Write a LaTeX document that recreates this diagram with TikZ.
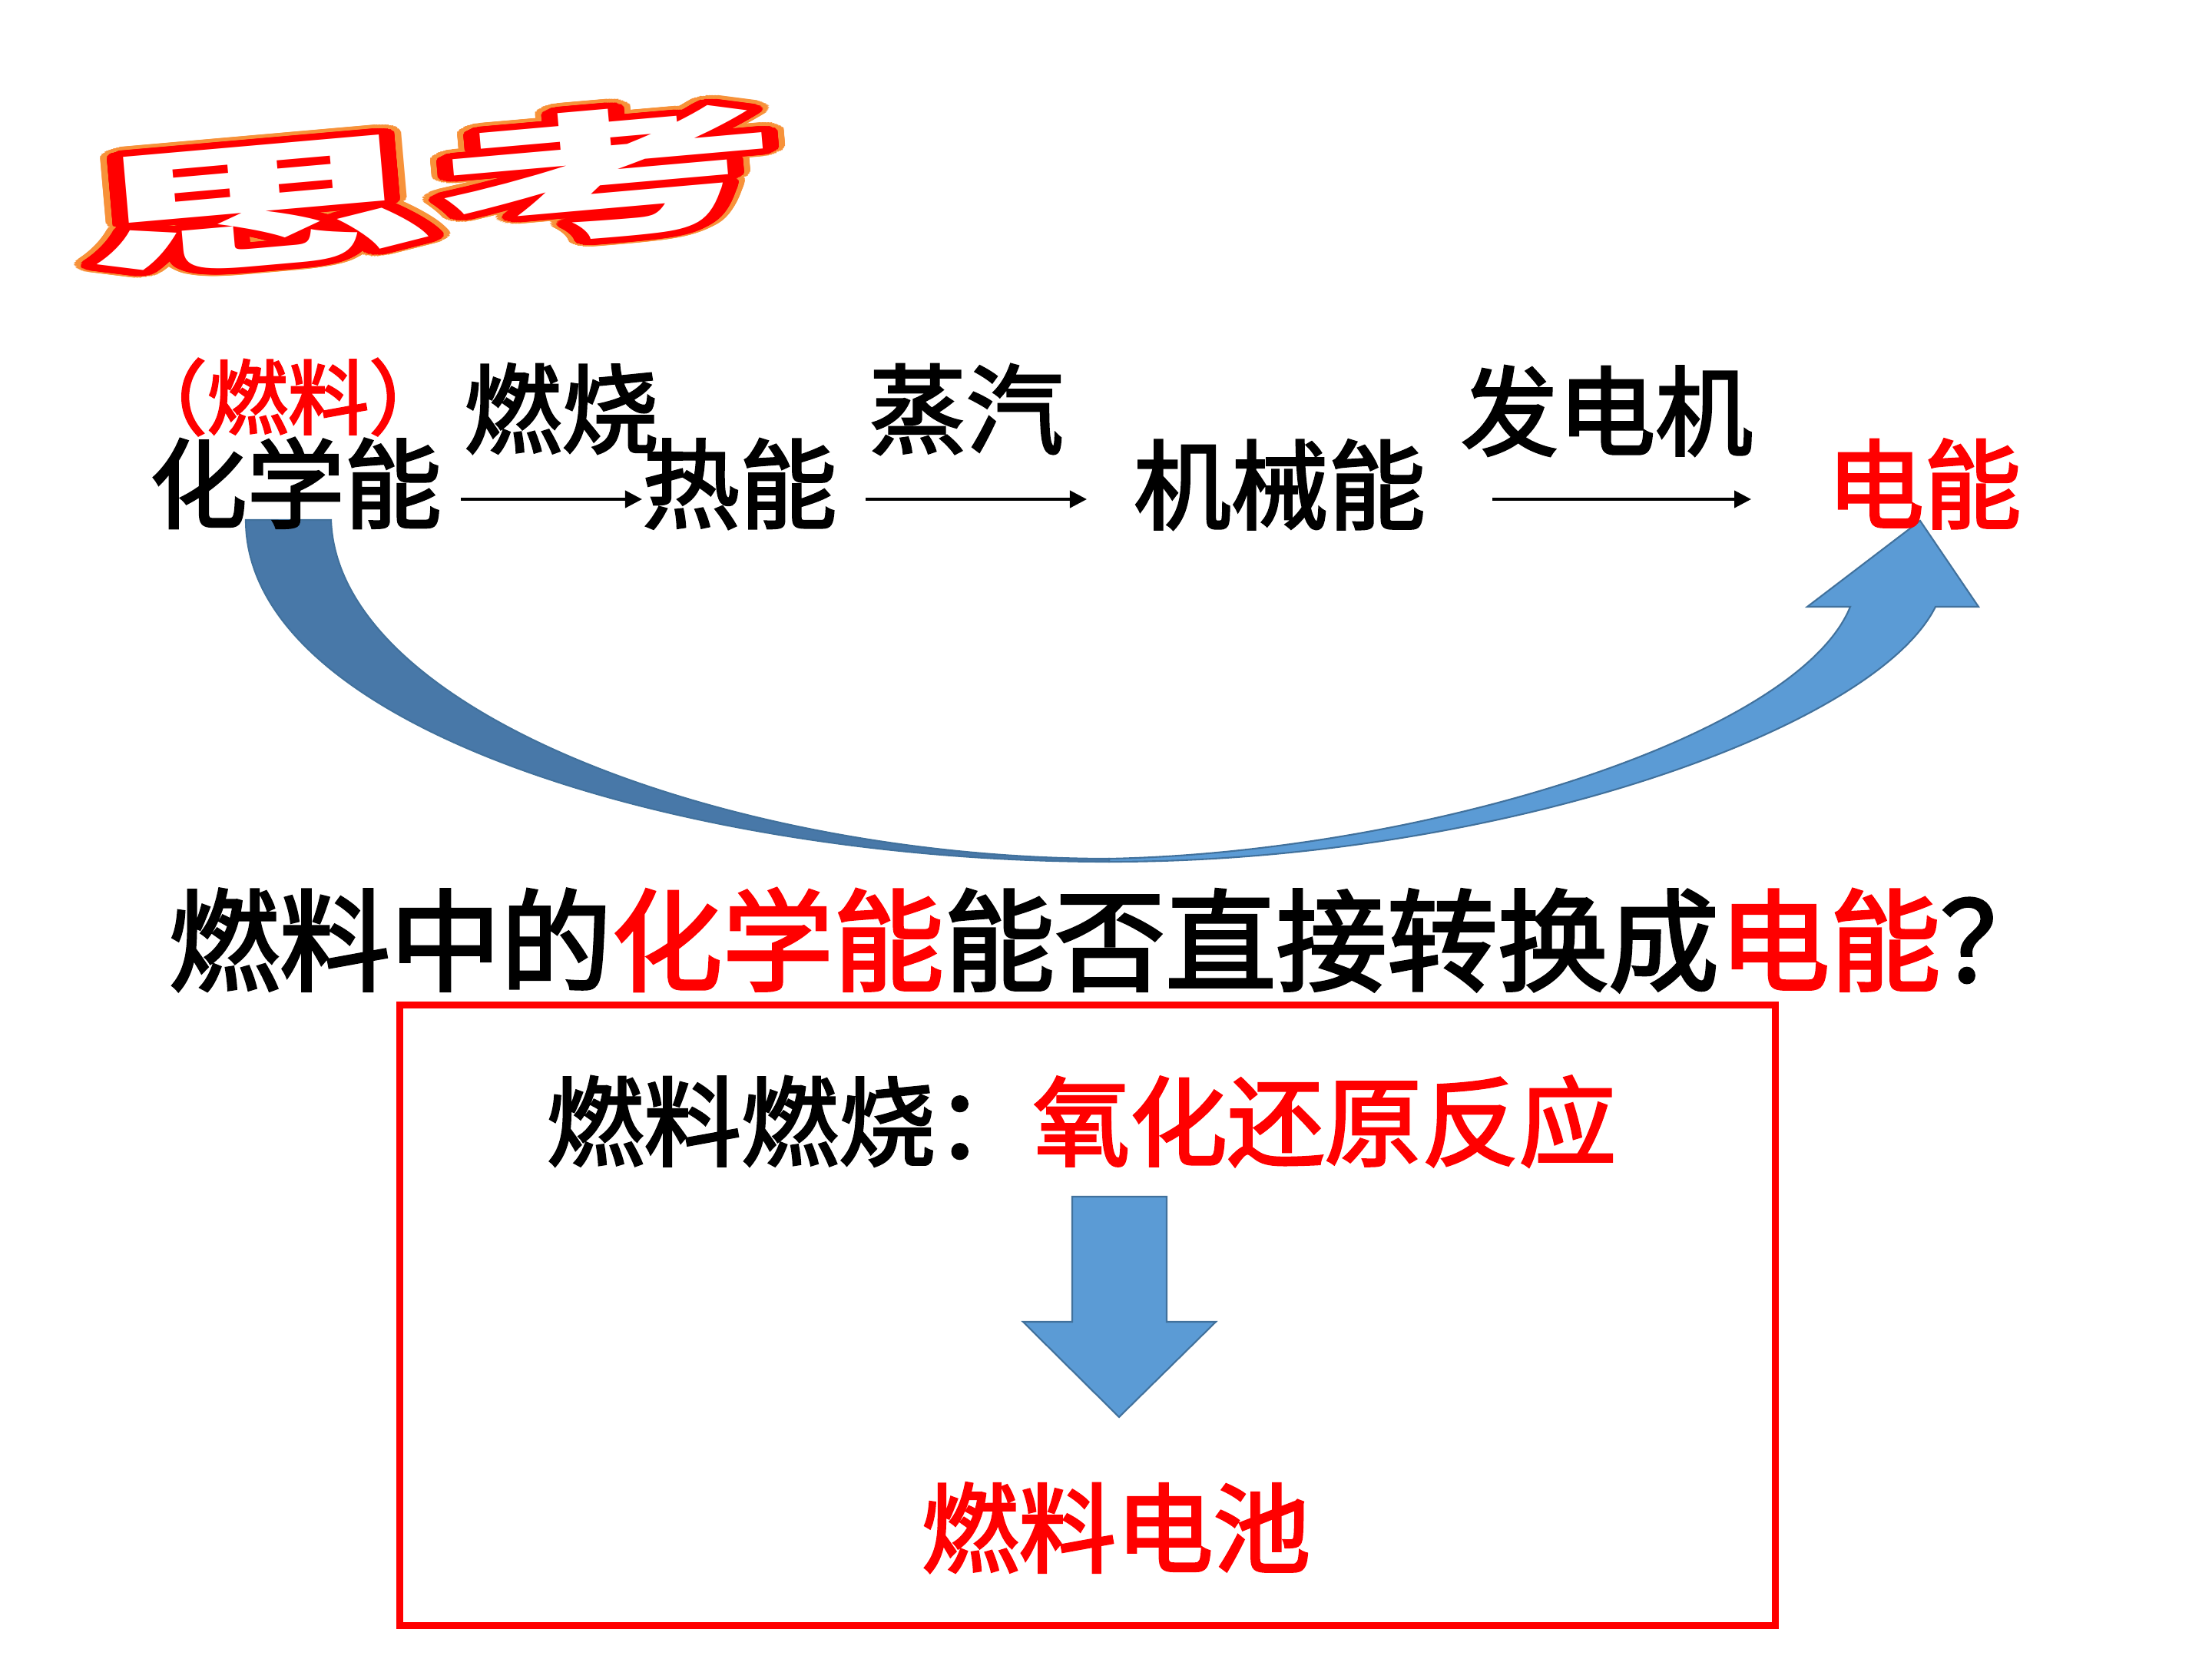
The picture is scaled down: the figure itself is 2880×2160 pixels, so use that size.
\documentclass[tikz,border=0pt]{standalone}
\usepackage{fontspec}
\setmainfont{Noto Sans CJK SC}
\newfontfamily\heavy{Noto Sans CJK SC}[FakeBold=2.5]
\usepackage{xcolor}
\usepackage{tikz}
\usetikzlibrary{arrows.meta}
\usepackage{contour}
\contournumber{48}
\definecolor{arcdark}{HTML}{4878A8}
\definecolor{arclight}{HTML}{5B9BD5}
\definecolor{arcedge}{HTML}{41719C}
\definecolor{titlerim}{HTML}{F7923A}

\begin{document}
\begin{tikzpicture}[x=0.01cm, y=-0.01cm,
  txt/.style={font=\heavy\fontsize{36}{40}\selectfont, inner sep=0pt},
  flow/.style={-{Triangle[length=0.22cm,width=0.22cm]}, line width=0.04cm},
  blockarrow/.style={fill=arclight, draw=arcedge, line width=0.6pt},
  headline/.style={rotate=5, xscale=2.6, inner sep=0pt, font=\fontsize{50}{50}\selectfont\bfseries}]
  \useasboundingbox (0,0) rectangle (2880,2160);
  % Title: white letters, red outline, orange rim
  \node[headline] (titleback) at (563,250)
    {\contourlength{3.2pt}\contour{titlerim}{\textcolor{white}{思考}}};
  \node[headline] (title) at (563,250)
    {\contourlength{2.3pt}\contour{red}{\textcolor{white}{思考}}};
  % Curved arrow: back of the ribbon dark, front light
  \filldraw[fill=arcdark, draw=arcedge, line width=0.6pt] (320,677) -- (431,677)
    .. controls (440,930) and (960,1118) .. (1444,1118) -- (1444,1122)
    .. controls (900,1122) and (320,950) .. (320,677) -- cycle;
  \filldraw[blockarrow] (1444,1122) .. controls (1950,1122) and (2440,950) .. (2520,790)
    -- (2576,790) -- (2500,678) -- (2353,790) -- (2409,790)
    .. controls (2340,960) and (1850,1110) .. (1444,1118) -- cycle;
  % Energy chain
  \node[txt, text=red, font=\heavy\fontsize{30}{32}\selectfont] (fuel) at (375,517) {（燃料）};
  \node[txt] (chem) at (385,629) {化学能};
  \node[txt] (heat) at (963,630) {热能};
  \node[txt] (mech) at (1666,631) {机械能};
  \node[txt, text=red] (elec) at (2505,630) {电能};
  \node[txt] (burn) at (731,532) {燃烧};
  \node[txt] (steam) at (1258,533) {蒸汽};
  \node[txt] (gen) at (2092,535) {发电机};
  \coordinate (burnA) at (600,650);  \coordinate (burnB) at (836,650);
  \coordinate (steamA) at (1127,650); \coordinate (steamB) at (1415,650);
  \coordinate (genA) at (1943,650);  \coordinate (genB) at (2280,650);
  \draw[flow] (burnA) -- (burnB);
  \draw[flow] (steamA) -- (steamB);
  \draw[flow] (genA) -- (genB);
  % Question
  \node[txt, anchor=west, font=\heavy\fontsize{41}{45}\selectfont] (ask) at (219,1224)
    {燃料中的\textcolor{red}{化学能}能否直接转换成\textcolor{red}{电能}？};
  % Answer box
  \draw[red, line width=0.09cm] (520,1308) rectangle (2311,2116);
  \node[txt] (redox) at (1408,1460) {燃料燃烧：\textcolor{red}{氧化还原反应}};
  \filldraw[blockarrow] (1396,1558) -- (1519,1558) -- (1519,1721) -- (1583,1721)
    -- (1457,1845) -- (1332,1721) -- (1396,1721) -- cycle;
  \node[txt, text=red] (cell) at (1453,1989) {燃料电池};
\end{tikzpicture}
\end{document}
